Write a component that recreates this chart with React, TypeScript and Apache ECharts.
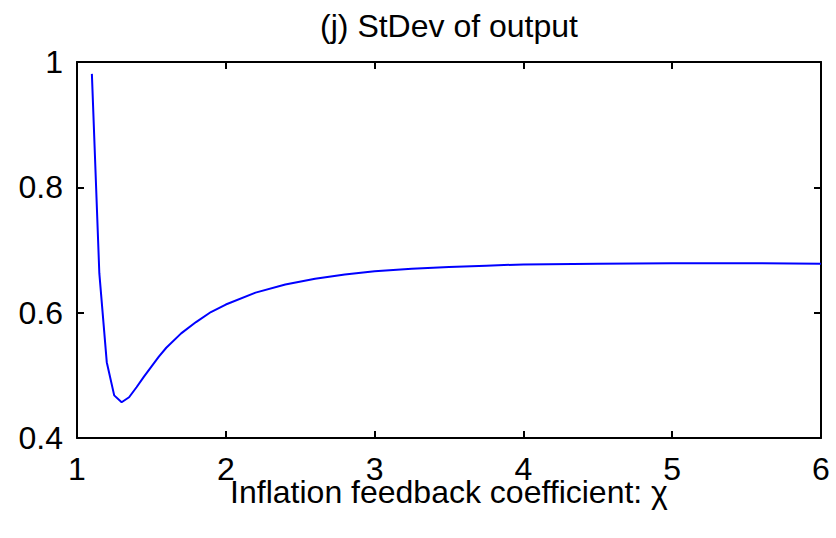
import React, { useEffect, useRef } from "react";
import * as echarts from "echarts";

const chiValues = [1.1, 1.15, 1.2, 1.25, 1.3, 1.35, 1.4, 1.45, 1.5, 1.55, 1.6, 1.7, 1.8, 1.9, 2.0, 2.2, 2.4, 2.6, 2.8, 3.0, 3.25, 3.5, 3.75, 4.0, 4.5, 5.0, 5.5, 6.0];
const stdevOutput = [0.981, 0.663, 0.521, 0.468, 0.457, 0.465, 0.481, 0.498, 0.514, 0.530, 0.544, 0.567, 0.585, 0.601, 0.613, 0.632, 0.645, 0.654, 0.661, 0.666, 0.670, 0.673, 0.675, 0.677, 0.678, 0.679, 0.679, 0.678];
const titleText = "(j) StDev of output";
const xAxisTitle = "Inflation feedback coefficient: χ";

const FONT = '"Liberation Sans", Arial, Helvetica, sans-serif';

export default function App() {
  const ref = useRef<HTMLDivElement>(null);
  useEffect(() => {
    if (!ref.current) return;
    const chart = echarts.init(ref.current, null, { renderer: "svg" });
    const axisLine = { show: true, lineStyle: { color: "#000", width: 2 } };
    const tickIn = { show: true, inside: true, length: 7, lineStyle: { color: "#000", width: 2 } };
    const gridLeft = 77, gridTop = 62, gridW = 744, gridH = 376;
    chart.setOption({
      animation: false,
      backgroundColor: "#fff",
      textStyle: { fontFamily: FONT },
      grid: { left: gridLeft, top: gridTop, width: gridW, height: gridH, containLabel: false },
      xAxis: [
        {
          type: "value", min: 1, max: 6, interval: 1, position: "bottom",
          axisLine, axisTick: tickIn, splitLine: { show: false },
          axisLabel: { fontSize: 32, color: "#000", margin: 15, fontFamily: FONT },
        },
        {
          type: "value", min: 1, max: 6, interval: 1, position: "top",
          axisLine, axisTick: tickIn, splitLine: { show: false }, axisLabel: { show: false },
        },
      ],
      yAxis: [
        {
          type: "value", min: 0.4, max: 1, interval: 0.2, position: "left",
          axisLine, axisTick: tickIn, splitLine: { show: false },
          axisLabel: { fontSize: 32, color: "#000", margin: 14, fontFamily: FONT },
        },
        {
          type: "value", min: 0.4, max: 1, interval: 0.2, position: "right",
          axisLine, axisTick: tickIn, splitLine: { show: false }, axisLabel: { show: false },
        },
      ],
      graphic: [
        {
          type: "text", x: gridLeft + gridW / 2, y: 26,
          style: { text: titleText, fontSize: 32, fontFamily: FONT, fill: "#000", textAlign: "center", textVerticalAlign: "middle" },
        },
        {
          type: "text", x: gridLeft + gridW / 2, y: 492,
          style: { text: xAxisTitle, fontSize: 32, fontFamily: FONT, fill: "#000", textAlign: "center", textVerticalAlign: "middle" },
        },
      ],
      series: [
        {
          type: "line",
          xAxisIndex: 0, yAxisIndex: 0,
          data: chiValues.map((c, i) => [c, stdevOutput[i]]),
          showSymbol: false,
          smooth: false,
          lineStyle: { color: "#0000ff", width: 2 },
        },
      ],
    });
    return () => chart.dispose();
  }, []);
  return <div ref={ref} style={{ position: "absolute", left: 0, top: 0, width: 836, height: 538 }} />;
}
